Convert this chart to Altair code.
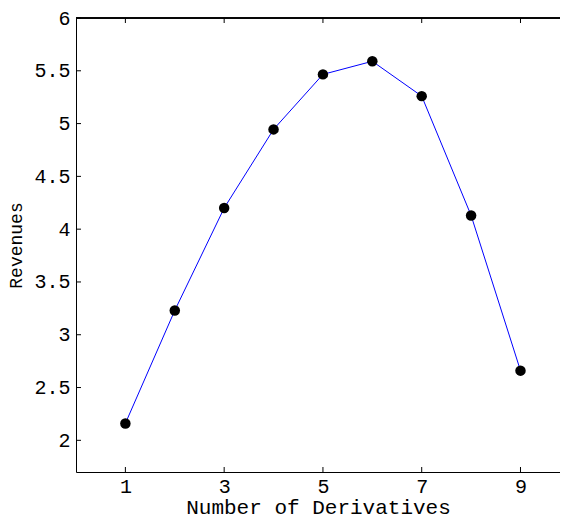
import altair as alt
import pandas as pd

derivatives = [1, 2, 3, 4, 5, 6, 7, 8, 9]
revenues = [2.16, 3.23, 4.20, 4.945, 5.466, 5.59, 5.26, 4.13, 2.66]
x_ticks = [1, 3, 5, 7, 9]
y_ticks = [2, 2.5, 3, 3.5, 4, 4.5, 5, 5.5, 6]

W, H = 484, 454
FONT = "Liberation Mono"

df = pd.DataFrame({"x": derivatives, "y": revenues})
xt = pd.DataFrame({"x": x_ticks})
yt = pd.DataFrame({"y": y_ticks})

xscale = alt.Scale(domain=[0, 9.8], nice=False, zero=False)
yscale = alt.Scale(domain=[1.7, 6], nice=False, zero=False)

xaxis = alt.Axis(values=x_ticks, title="Number of Derivatives", grid=False,
                 tickSize=0, labelPadding=4, titlePadding=0,
                 titleFontSize=21, labelFontSize=20)
yaxis = alt.Axis(values=y_ticks, title="Revenues", grid=False, format="~g",
                 tickSize=0, labelPadding=6, titlePadding=8,
                 titleFontSize=18, labelFontSize=20)

line = alt.Chart(df).mark_line(color="#0000ff", strokeWidth=1).encode(
    x=alt.X("x:Q", scale=xscale, axis=xaxis),
    y=alt.Y("y:Q", scale=yscale, axis=yaxis),
)
pts = alt.Chart(df).mark_point(filled=True, color="black", size=110, opacity=1).encode(
    x="x:Q", y="y:Q"
)
bottom_ticks = alt.Chart(xt).mark_rule(color="black", strokeWidth=1).encode(
    x="x:Q", y=alt.value(H), y2=alt.value(H - 5)
)
top_ticks = alt.Chart(xt).mark_rule(color="black", strokeWidth=1).encode(
    x="x:Q", y=alt.value(0), y2=alt.value(5)
)
left_ticks = alt.Chart(yt).mark_rule(color="black", strokeWidth=1).encode(
    y="y:Q", x=alt.value(0), x2=alt.value(5)
)
top_border = alt.Chart(xt).mark_rule(color="black", strokeWidth=1).encode(
    x=alt.value(0), x2=alt.value(W), y=alt.value(0)
)

chart = alt.layer(line, pts, bottom_ticks, top_ticks, left_ticks, top_border).properties(
    width=W, height=H,
    background="white",
    autosize=alt.AutoSizeParams(type="none"),
    padding={"left": 68, "top": 10, "right": 0, "bottom": 47},
).configure_view(stroke=None).configure_axis(
    labelFont=FONT, titleFont=FONT, labelColor="black", titleColor="black",
    titleFontWeight="normal", domainColor="black", domainWidth=1,
)

chart.save("out.html", embed_options={"renderer": "svg", "actions": False})
